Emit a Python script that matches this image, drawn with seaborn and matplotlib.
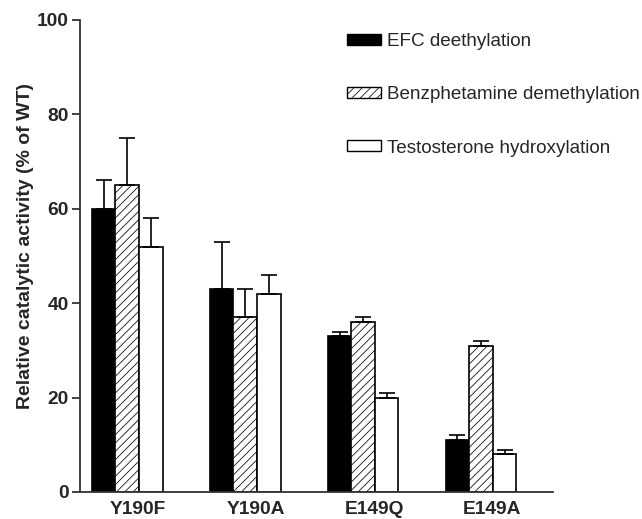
import matplotlib
matplotlib.use("Agg")
import matplotlib.pyplot as plt
from matplotlib.patches import Patch
import seaborn as sns
import pandas as pd
import numpy as np

mutants = ["Y190F", "Y190A", "E149Q", "E149A"]
assays = ["EFC deethylation", "Benzphetamine demethylation", "Testosterone hydroxylation"]
efc = [60, 43, 33, 11]
efc_err = [6, 10, 1, 1]
benz = [65, 37, 36, 31]
benz_err = [10, 6, 1, 1]
testo = [52, 42, 20, 8]
testo_err = [6, 4, 1, 1]
yticks = [0, 20, 40, 60, 80, 100]

sns.set_style("ticks")
plt.rcParams["font.family"] = ["Liberation Sans", "DejaVu Sans"]
plt.rcParams["hatch.linewidth"] = 0.55
plt.rcParams["hatch.color"] = "#444444"

values = [efc, benz, testo]
errors = [efc_err, benz_err, testo_err]
rows = []
for a, vals in zip(assays, values):
    for m, v in zip(mutants, vals):
        rows.append({"mutant": m, "assay": a, "value": v})
df = pd.DataFrame(rows)

fig = plt.figure(figsize=(6.42, 5.19), dpi=100)
ax = fig.add_axes([80 / 642, 1 - 492 / 519, (553 - 80) / 642, (492 - 20) / 519])

sns.barplot(data=df, x="mutant", y="value", hue="assay", order=mutants,
            hue_order=assays, palette=["black", "white", "white"], width=0.6,
            gap=0, edgecolor="black", linewidth=1.2, errorbar=None, ax=ax,
            legend=False)

hatches = [None, "////", None]
for cont, h, errs in zip(ax.containers, hatches, errors):
    for p, e in zip(cont.patches, errs):
        if h:
            p.set_hatch(h)
        xc = p.get_x() + p.get_width() / 2
        ax.errorbar([xc], [p.get_height()], yerr=[[0], [e]], fmt="none",
                    ecolor="black", elinewidth=1.2, capsize=5.5, capthick=1.2,
                    zorder=1)

ax.set_ylim(0, 100)
ax.set_xlim(-0.4, 3.61)
ax.set_yticks(yticks)
ax.set_yticklabels([str(t) for t in yticks], fontsize=13.8, fontweight="bold")
# category labels sit slightly right of the group centres in the reference
label_shift = 0.093
ax.set_xticks(np.arange(len(mutants)) + label_shift)
ax.set_xticklabels(mutants, fontsize=13.8, fontweight="bold")
ax.tick_params(axis="x", length=0, pad=6.3)
ax.tick_params(axis="y", length=6, width=1.3, color="#333333", pad=2)
ax.set_xlabel("")
ax.set_ylabel("Relative catalytic activity (% of WT)", fontsize=14, fontweight="bold")
ax.yaxis.set_label_coords(-0.097, 0.522)
sns.despine(ax=ax)
for s in ["left", "bottom"]:
    ax.spines[s].set_linewidth(1.3)
    ax.spines[s].set_color("#333333")

handles = [Patch(facecolor="black", edgecolor="black", linewidth=1.0),
           Patch(facecolor="white", edgecolor="black", hatch="////", linewidth=1.0),
           Patch(facecolor="white", edgecolor="black", linewidth=1.0)]
ax.legend(handles, assays, loc="upper left", bbox_to_anchor=(346.7 / 642, 1 - 33 / 519),
          bbox_transform=fig.transFigure, frameon=False, fontsize=13.6,
          borderpad=0, borderaxespad=0, handlelength=1.8, handleheight=0.53,
          handletextpad=0.32, labelspacing=1.92)

fig.savefig("out.png", dpi=100)
